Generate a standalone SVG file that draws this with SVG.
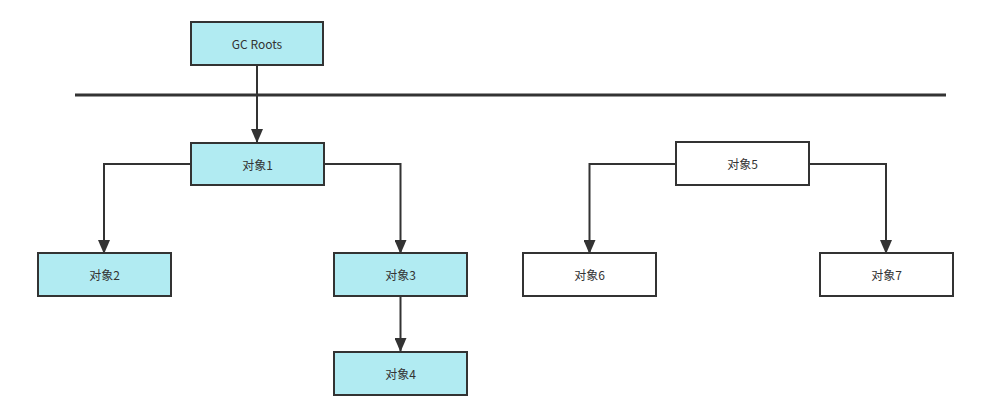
<svg xmlns="http://www.w3.org/2000/svg" width="1001" height="418" viewBox="0 0 1001 418">
<style>
.n rect{stroke:#333;stroke-width:2}
.c{fill:#b1ebf2}
.w{fill:#fff}
text{font-family:"Microsoft YaHei","Noto Sans CJK SC","Liberation Sans",sans-serif;font-size:12px;fill:#333;text-anchor:middle;dominant-baseline:central}
.e path{fill:none;stroke:#333;stroke-width:2}
</style>
<defs>
<marker id="a" markerUnits="userSpaceOnUse" markerWidth="12" markerHeight="14" viewBox="0 0 12 14" refX="6" refY="13" orient="auto-start-reverse">
<path d="M0,0 L12,0 L6,14 Z" fill="#333" transform="rotate(0)"/>
</marker>
<marker id="b" markerUnits="userSpaceOnUse" markerWidth="14" markerHeight="12" viewBox="0 0 14 12" refX="13" refY="6" orient="auto">
<path d="M0,0 L14,6 L0,12 Z" fill="#333"/>
</marker>
</defs>
<rect x="0" y="0" width="1001" height="418" fill="#fff"/>
<line x1="75" y1="95" x2="946" y2="95" stroke="#333" stroke-width="3"/>
<g class="e">
<path d="M257,65 V142" marker-end="url(#b)"/>
<path d="M191,164 H104 V253" marker-end="url(#b)"/>
<path d="M324,164 H400.5 V253" marker-end="url(#b)"/>
<path d="M400.5,296 V351" marker-end="url(#b)"/>
<path d="M676,164 H589.5 V253" marker-end="url(#b)"/>
<path d="M809,164 H886 V253" marker-end="url(#b)"/>
</g>
<g id="gcroots" class="n"><rect class="c" x="191" y="22" width="132" height="43"/><text x="257" y="43.5">GC Roots</text></g>
<g id="obj1" class="n"><rect class="c" x="191" y="143" width="133" height="42"/><text x="257.5" y="164">对象1</text></g>
<g id="obj2" class="n"><rect class="c" x="38" y="253" width="133" height="43"/><text x="104.5" y="274.5">对象2</text></g>
<g id="obj3" class="n"><rect class="c" x="334" y="253" width="133" height="43"/><text x="400.5" y="274.5">对象3</text></g>
<g id="obj4" class="n"><rect class="c" x="334" y="352" width="133" height="43"/><text x="400.5" y="373.5">对象4</text></g>
<g id="obj5" class="n"><rect class="w" x="676" y="142" width="133" height="43"/><text x="742.5" y="163.5">对象5</text></g>
<g id="obj6" class="n"><rect class="w" x="523" y="253" width="133" height="43"/><text x="589.5" y="274.5">对象6</text></g>
<g id="obj7" class="n"><rect class="w" x="820" y="253" width="133" height="43"/><text x="886.5" y="274.5">对象7</text></g>
</svg>
